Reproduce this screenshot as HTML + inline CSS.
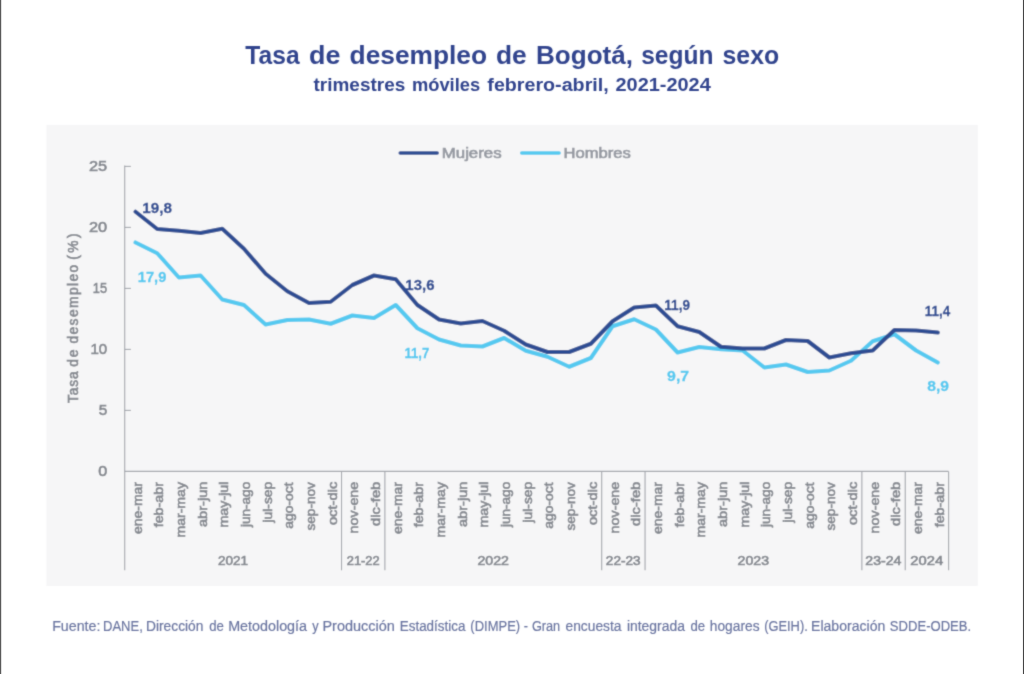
<!DOCTYPE html><html><head><meta charset="utf-8"><title>Tasa de desempleo de Bogotá</title>
<style>html,body{margin:0;padding:0;background:#fff;}body{width:1024px;height:674px;overflow:hidden;}svg{display:block;}text{font-family:"Liberation Sans",sans-serif;}</style></head><body>
<svg width="1024" height="674" viewBox="0 0 1024 674">
<rect x="0" y="0" width="1024" height="674" fill="#ffffff"/>
<rect x="0" y="0" width="1.2" height="674" fill="#5a5a5a"/>
<rect x="1022.95" y="0" width="1.05" height="674" fill="#444444"/>
<defs><filter id="soft" x="0" y="0" width="1024" height="674" filterUnits="userSpaceOnUse"><feConvolveMatrix order="3" kernelMatrix="0.025 0.1 0.025 0.1 0.5 0.1 0.025 0.1 0.025" divisor="1" edgeMode="duplicate" preserveAlpha="false"/></filter></defs>
<g filter="url(#soft)">
<rect x="46.4" y="124.9" width="931.4" height="461" fill="#f6f6f7"/>
<text x="245.36" y="64.00" font-size="26" font-weight="bold" fill="#33458e"  textLength="54.29" lengthAdjust="spacingAndGlyphs">Tasa</text>
<text x="309.06" y="64.00" font-size="26" font-weight="bold" fill="#33458e"  textLength="31.41" lengthAdjust="spacingAndGlyphs">de</text>
<text x="349.59" y="64.00" font-size="26" font-weight="bold" fill="#33458e"  textLength="137.50" lengthAdjust="spacingAndGlyphs">desempleo</text>
<text x="495.99" y="64.00" font-size="26" font-weight="bold" fill="#33458e"  textLength="30.77" lengthAdjust="spacingAndGlyphs">de</text>
<text x="536.05" y="64.00" font-size="26" font-weight="bold" fill="#33458e"  textLength="96.92" lengthAdjust="spacingAndGlyphs">Bogotá,</text>
<text x="641.16" y="64.00" font-size="26" font-weight="bold" fill="#33458e"  textLength="72.23" lengthAdjust="spacingAndGlyphs">según</text>
<text x="722.54" y="64.00" font-size="26" font-weight="bold" fill="#33458e"  textLength="56.63" lengthAdjust="spacingAndGlyphs">sexo</text>
<text x="313.54" y="91.00" font-size="18" font-weight="bold" fill="#33458e"  textLength="91.70" lengthAdjust="spacingAndGlyphs">trimestres</text>
<text x="411.93" y="91.00" font-size="18" font-weight="bold" fill="#33458e"  textLength="68.28" lengthAdjust="spacingAndGlyphs">móviles</text>
<text x="487.33" y="91.00" font-size="18" font-weight="bold" fill="#33458e"  textLength="121.37" lengthAdjust="spacingAndGlyphs">febrero-abril,</text>
<text x="615.47" y="91.00" font-size="18" font-weight="bold" fill="#33458e"  textLength="95.33" lengthAdjust="spacingAndGlyphs">2021-2024</text>
<line x1="400.2" y1="153" x2="437.2" y2="153" stroke="#2f4d93" stroke-width="3.5" stroke-linecap="round"/>
<text x="441.82" y="158.00" font-size="15" font-weight="normal" fill="#969aa2" stroke="#969aa2" stroke-width="0.7" textLength="59.74" lengthAdjust="spacingAndGlyphs">Mujeres</text>
<line x1="521.7" y1="153" x2="559.1" y2="153" stroke="#54c9f0" stroke-width="3.5" stroke-linecap="round"/>
<text x="563.64" y="158.00" font-size="15" font-weight="normal" fill="#969aa2" stroke="#969aa2" stroke-width="0.7" textLength="67.21" lengthAdjust="spacingAndGlyphs">Hombres</text>
<g stroke="#a2a5ab" stroke-width="1.1" fill="none">
<line x1="124.7" y1="165.6" x2="124.7" y2="570.3"/>
<line x1="124.7" y1="471.4" x2="948.6" y2="471.4"/>
<line x1="124.7" y1="410.40" x2="130.9" y2="410.40"/>
<line x1="124.7" y1="349.40" x2="130.9" y2="349.40"/>
<line x1="124.7" y1="288.40" x2="130.9" y2="288.40"/>
<line x1="124.7" y1="227.40" x2="130.9" y2="227.40"/>
<line x1="124.7" y1="166.40" x2="130.9" y2="166.40"/>
<line x1="341.52" y1="471.4" x2="341.52" y2="570.3"/>
<line x1="384.88" y1="471.4" x2="384.88" y2="570.3"/>
<line x1="601.69" y1="471.4" x2="601.69" y2="570.3"/>
<line x1="645.06" y1="471.4" x2="645.06" y2="570.3"/>
<line x1="861.87" y1="471.4" x2="861.87" y2="570.3"/>
<line x1="905.24" y1="471.4" x2="905.24" y2="570.3"/>
<line x1="948.60" y1="471.4" x2="948.60" y2="570.3"/>
</g>
<text x="98.21" y="476.00" font-size="15.3" font-weight="normal" fill="#84888f" stroke="#84888f" stroke-width="0.65" textLength="9.00" lengthAdjust="spacingAndGlyphs">0</text>
<text x="98.65" y="415.00" font-size="15.3" font-weight="normal" fill="#84888f" stroke="#84888f" stroke-width="0.65" textLength="8.52" lengthAdjust="spacingAndGlyphs">5</text>
<text x="90.43" y="354.00" font-size="15.3" font-weight="normal" fill="#84888f" stroke="#84888f" stroke-width="0.65" textLength="16.73" lengthAdjust="spacingAndGlyphs">10</text>
<text x="92.85" y="293.00" font-size="15.3" font-weight="normal" fill="#84888f" stroke="#84888f" stroke-width="0.65" textLength="14.19" lengthAdjust="spacingAndGlyphs">15</text>
<text x="89.03" y="232.00" font-size="15.3" font-weight="normal" fill="#84888f" stroke="#84888f" stroke-width="0.65" textLength="18.19" lengthAdjust="spacingAndGlyphs">20</text>
<text x="89.03" y="171.00" font-size="15.3" font-weight="normal" fill="#84888f" stroke="#84888f" stroke-width="0.65" textLength="18.19" lengthAdjust="spacingAndGlyphs">25</text>
<text transform="translate(77.70,402.60) rotate(-90)" x="-0.50" y="0" font-size="13.8" font-weight="normal" fill="#84888f" stroke="#84888f" stroke-width="0.65" textLength="31.76" lengthAdjust="spacing">Tasa</text>
<text transform="translate(77.70,366.00) rotate(-90)" x="-0.75" y="0" font-size="13.8" font-weight="normal" fill="#84888f" stroke="#84888f" stroke-width="0.65" textLength="17.31" lengthAdjust="spacing">de</text>
<text transform="translate(77.70,342.80) rotate(-90)" x="-0.75" y="0" font-size="13.8" font-weight="normal" fill="#84888f" stroke="#84888f" stroke-width="0.65" textLength="78.80" lengthAdjust="spacing">desempleo</text>
<text transform="translate(77.70,258.80) rotate(-90)" x="-1.00" y="0" font-size="13.8" font-weight="normal" fill="#84888f" stroke="#84888f" stroke-width="0.65" textLength="26.47" lengthAdjust="spacing">(%)</text>
<text transform="translate(141.54,533.30) rotate(-90)" x="-0.78" y="0" font-size="13.5" font-weight="normal" fill="#84888f" stroke="#84888f" stroke-width="0.65" textLength="52.03" lengthAdjust="spacingAndGlyphs">ene-mar</text>
<text transform="translate(163.22,526.80) rotate(-90)" x="-0.53" y="0" font-size="13.5" font-weight="normal" fill="#84888f" stroke="#84888f" stroke-width="0.65" textLength="45.29" lengthAdjust="spacingAndGlyphs">feb-abr</text>
<text transform="translate(184.90,536.30) rotate(-90)" x="-1.30" y="0" font-size="13.5" font-weight="normal" fill="#84888f" stroke="#84888f" stroke-width="0.65" textLength="55.52" lengthAdjust="spacingAndGlyphs">mar-may</text>
<text transform="translate(206.59,526.30) rotate(-90)" x="-0.81" y="0" font-size="13.5" font-weight="normal" fill="#84888f" stroke="#84888f" stroke-width="0.65" textLength="45.63" lengthAdjust="spacingAndGlyphs">abr-jun</text>
<text transform="translate(228.27,526.30) rotate(-90)" x="-1.32" y="0" font-size="13.5" font-weight="normal" fill="#84888f" stroke="#84888f" stroke-width="0.65" textLength="46.10" lengthAdjust="spacingAndGlyphs">may-jul</text>
<text transform="translate(249.95,527.10) rotate(-90)" x="0.00" y="0" font-size="13.5" font-weight="normal" fill="#84888f" stroke="#84888f" stroke-width="0.65" textLength="45.30" lengthAdjust="spacingAndGlyphs">jun-ago</text>
<text transform="translate(271.63,522.50) rotate(-90)" x="0.00" y="0" font-size="13.5" font-weight="normal" fill="#84888f" stroke="#84888f" stroke-width="0.65" textLength="40.70" lengthAdjust="spacingAndGlyphs">jul-sep</text>
<text transform="translate(293.31,528.00) rotate(-90)" x="-0.77" y="0" font-size="13.5" font-weight="normal" fill="#84888f" stroke="#84888f" stroke-width="0.65" textLength="46.46" lengthAdjust="spacingAndGlyphs">ago-oct</text>
<text transform="translate(314.99,530.10) rotate(-90)" x="-0.51" y="0" font-size="13.5" font-weight="normal" fill="#84888f" stroke="#84888f" stroke-width="0.65" textLength="48.54" lengthAdjust="spacingAndGlyphs">sep-nov</text>
<text transform="translate(336.68,524.30) rotate(-90)" x="-0.82" y="0" font-size="13.5" font-weight="normal" fill="#84888f" stroke="#84888f" stroke-width="0.65" textLength="43.35" lengthAdjust="spacingAndGlyphs">oct-dic</text>
<text transform="translate(358.36,532.10) rotate(-90)" x="-1.32" y="0" font-size="13.5" font-weight="normal" fill="#84888f" stroke="#84888f" stroke-width="0.65" textLength="51.67" lengthAdjust="spacingAndGlyphs">nov-ene</text>
<text transform="translate(380.04,525.10) rotate(-90)" x="-0.82" y="0" font-size="13.5" font-weight="normal" fill="#84888f" stroke="#84888f" stroke-width="0.65" textLength="44.17" lengthAdjust="spacingAndGlyphs">dic-feb</text>
<text transform="translate(401.72,533.30) rotate(-90)" x="-0.78" y="0" font-size="13.5" font-weight="normal" fill="#84888f" stroke="#84888f" stroke-width="0.65" textLength="52.03" lengthAdjust="spacingAndGlyphs">ene-mar</text>
<text transform="translate(423.40,526.80) rotate(-90)" x="-0.53" y="0" font-size="13.5" font-weight="normal" fill="#84888f" stroke="#84888f" stroke-width="0.65" textLength="45.29" lengthAdjust="spacingAndGlyphs">feb-abr</text>
<text transform="translate(445.08,536.30) rotate(-90)" x="-1.30" y="0" font-size="13.5" font-weight="normal" fill="#84888f" stroke="#84888f" stroke-width="0.65" textLength="55.52" lengthAdjust="spacingAndGlyphs">mar-may</text>
<text transform="translate(466.76,526.30) rotate(-90)" x="-0.81" y="0" font-size="13.5" font-weight="normal" fill="#84888f" stroke="#84888f" stroke-width="0.65" textLength="45.63" lengthAdjust="spacingAndGlyphs">abr-jun</text>
<text transform="translate(488.45,526.30) rotate(-90)" x="-1.32" y="0" font-size="13.5" font-weight="normal" fill="#84888f" stroke="#84888f" stroke-width="0.65" textLength="46.10" lengthAdjust="spacingAndGlyphs">may-jul</text>
<text transform="translate(510.13,527.10) rotate(-90)" x="0.00" y="0" font-size="13.5" font-weight="normal" fill="#84888f" stroke="#84888f" stroke-width="0.65" textLength="45.30" lengthAdjust="spacingAndGlyphs">jun-ago</text>
<text transform="translate(531.81,522.50) rotate(-90)" x="0.00" y="0" font-size="13.5" font-weight="normal" fill="#84888f" stroke="#84888f" stroke-width="0.65" textLength="40.70" lengthAdjust="spacingAndGlyphs">jul-sep</text>
<text transform="translate(553.49,528.00) rotate(-90)" x="-0.77" y="0" font-size="13.5" font-weight="normal" fill="#84888f" stroke="#84888f" stroke-width="0.65" textLength="46.46" lengthAdjust="spacingAndGlyphs">ago-oct</text>
<text transform="translate(575.17,530.10) rotate(-90)" x="-0.51" y="0" font-size="13.5" font-weight="normal" fill="#84888f" stroke="#84888f" stroke-width="0.65" textLength="48.54" lengthAdjust="spacingAndGlyphs">sep-nov</text>
<text transform="translate(596.85,524.30) rotate(-90)" x="-0.82" y="0" font-size="13.5" font-weight="normal" fill="#84888f" stroke="#84888f" stroke-width="0.65" textLength="43.35" lengthAdjust="spacingAndGlyphs">oct-dic</text>
<text transform="translate(618.54,532.10) rotate(-90)" x="-1.32" y="0" font-size="13.5" font-weight="normal" fill="#84888f" stroke="#84888f" stroke-width="0.65" textLength="51.67" lengthAdjust="spacingAndGlyphs">nov-ene</text>
<text transform="translate(640.22,525.10) rotate(-90)" x="-0.82" y="0" font-size="13.5" font-weight="normal" fill="#84888f" stroke="#84888f" stroke-width="0.65" textLength="44.17" lengthAdjust="spacingAndGlyphs">dic-feb</text>
<text transform="translate(661.90,533.30) rotate(-90)" x="-0.78" y="0" font-size="13.5" font-weight="normal" fill="#84888f" stroke="#84888f" stroke-width="0.65" textLength="52.03" lengthAdjust="spacingAndGlyphs">ene-mar</text>
<text transform="translate(683.58,526.80) rotate(-90)" x="-0.53" y="0" font-size="13.5" font-weight="normal" fill="#84888f" stroke="#84888f" stroke-width="0.65" textLength="45.29" lengthAdjust="spacingAndGlyphs">feb-abr</text>
<text transform="translate(705.26,536.30) rotate(-90)" x="-1.30" y="0" font-size="13.5" font-weight="normal" fill="#84888f" stroke="#84888f" stroke-width="0.65" textLength="55.52" lengthAdjust="spacingAndGlyphs">mar-may</text>
<text transform="translate(726.94,526.30) rotate(-90)" x="-0.81" y="0" font-size="13.5" font-weight="normal" fill="#84888f" stroke="#84888f" stroke-width="0.65" textLength="45.63" lengthAdjust="spacingAndGlyphs">abr-jun</text>
<text transform="translate(748.63,526.30) rotate(-90)" x="-1.32" y="0" font-size="13.5" font-weight="normal" fill="#84888f" stroke="#84888f" stroke-width="0.65" textLength="46.10" lengthAdjust="spacingAndGlyphs">may-jul</text>
<text transform="translate(770.31,527.10) rotate(-90)" x="0.00" y="0" font-size="13.5" font-weight="normal" fill="#84888f" stroke="#84888f" stroke-width="0.65" textLength="45.30" lengthAdjust="spacingAndGlyphs">jun-ago</text>
<text transform="translate(791.99,522.50) rotate(-90)" x="0.00" y="0" font-size="13.5" font-weight="normal" fill="#84888f" stroke="#84888f" stroke-width="0.65" textLength="40.70" lengthAdjust="spacingAndGlyphs">jul-sep</text>
<text transform="translate(813.67,528.00) rotate(-90)" x="-0.77" y="0" font-size="13.5" font-weight="normal" fill="#84888f" stroke="#84888f" stroke-width="0.65" textLength="46.46" lengthAdjust="spacingAndGlyphs">ago-oct</text>
<text transform="translate(835.35,530.10) rotate(-90)" x="-0.51" y="0" font-size="13.5" font-weight="normal" fill="#84888f" stroke="#84888f" stroke-width="0.65" textLength="48.54" lengthAdjust="spacingAndGlyphs">sep-nov</text>
<text transform="translate(857.03,524.30) rotate(-90)" x="-0.82" y="0" font-size="13.5" font-weight="normal" fill="#84888f" stroke="#84888f" stroke-width="0.65" textLength="43.35" lengthAdjust="spacingAndGlyphs">oct-dic</text>
<text transform="translate(878.71,532.10) rotate(-90)" x="-1.32" y="0" font-size="13.5" font-weight="normal" fill="#84888f" stroke="#84888f" stroke-width="0.65" textLength="51.67" lengthAdjust="spacingAndGlyphs">nov-ene</text>
<text transform="translate(900.40,525.10) rotate(-90)" x="-0.82" y="0" font-size="13.5" font-weight="normal" fill="#84888f" stroke="#84888f" stroke-width="0.65" textLength="44.17" lengthAdjust="spacingAndGlyphs">dic-feb</text>
<text transform="translate(922.08,533.30) rotate(-90)" x="-0.78" y="0" font-size="13.5" font-weight="normal" fill="#84888f" stroke="#84888f" stroke-width="0.65" textLength="52.03" lengthAdjust="spacingAndGlyphs">ene-mar</text>
<text transform="translate(943.76,526.80) rotate(-90)" x="-0.53" y="0" font-size="13.5" font-weight="normal" fill="#84888f" stroke="#84888f" stroke-width="0.65" textLength="45.29" lengthAdjust="spacingAndGlyphs">feb-abr</text>
<text x="217.98" y="565.00" font-size="13.2" font-weight="normal" fill="#84888f" stroke="#84888f" stroke-width="0.65" textLength="30.09" lengthAdjust="spacingAndGlyphs">2021</text>
<text x="346.72" y="565.00" font-size="13.2" font-weight="normal" fill="#84888f" stroke="#84888f" stroke-width="0.65" textLength="32.94" lengthAdjust="spacingAndGlyphs">21-22</text>
<text x="477.46" y="565.00" font-size="13.2" font-weight="normal" fill="#84888f" stroke="#84888f" stroke-width="0.65" textLength="31.48" lengthAdjust="spacingAndGlyphs">2022</text>
<text x="605.85" y="565.00" font-size="13.2" font-weight="normal" fill="#84888f" stroke="#84888f" stroke-width="0.65" textLength="34.79" lengthAdjust="spacingAndGlyphs">22-23</text>
<text x="737.64" y="565.00" font-size="13.2" font-weight="normal" fill="#84888f" stroke="#84888f" stroke-width="0.65" textLength="31.48" lengthAdjust="spacingAndGlyphs">2023</text>
<text x="865.39" y="565.00" font-size="13.2" font-weight="normal" fill="#84888f" stroke="#84888f" stroke-width="0.65" textLength="36.05" lengthAdjust="spacingAndGlyphs">23-24</text>
<text x="910.30" y="565.00" font-size="13.2" font-weight="normal" fill="#84888f" stroke="#84888f" stroke-width="0.65" textLength="32.78" lengthAdjust="spacingAndGlyphs">2024</text>
<path d="M135.54,242.50 L157.22,253.25 L178.90,277.50 L200.59,275.50 L222.27,299.50 L243.95,305.00 L265.63,324.50 L287.31,320.00 L308.99,319.50 L330.68,323.75 L352.36,315.50 L374.04,318.00 L395.72,305.00 L417.40,328.25 L439.08,339.50 L460.76,345.50 L482.45,346.50 L504.13,338.00 L525.81,350.75 L547.49,356.75 L569.17,366.75 L590.85,358.00 L612.54,326.25 L634.22,319.25 L655.90,329.50 L677.58,352.50 L699.26,347.00 L720.94,349.25 L742.63,350.50 L764.31,367.50 L785.99,364.50 L807.67,372.00 L829.35,370.50 L851.03,360.75 L872.71,341.25 L894.40,334.25 L916.08,350.50 L937.76,362.50" fill="none" stroke="#54c9f0" stroke-width="4.1" stroke-linejoin="round" stroke-linecap="round"/>
<path d="M135.54,211.75 L157.22,229.00 L178.90,230.75 L200.59,233.00 L222.27,228.75 L243.95,248.75 L265.63,273.75 L287.31,291.25 L308.99,303.00 L330.68,301.75 L352.36,285.00 L374.04,275.50 L395.72,279.25 L417.40,305.00 L439.08,319.50 L460.76,323.50 L482.45,321.00 L504.13,330.75 L525.81,344.50 L547.49,352.00 L569.17,352.00 L590.85,343.75 L612.54,321.25 L634.22,307.50 L655.90,305.50 L677.58,326.25 L699.26,332.00 L720.94,346.75 L742.63,348.50 L764.31,348.50 L785.99,340.00 L807.67,341.00 L829.35,357.50 L851.03,353.25 L872.71,350.50 L894.40,330.00 L916.08,330.50 L937.76,332.50" fill="none" stroke="#2f4d93" stroke-width="4.1" stroke-linejoin="round" stroke-linecap="round"/>
<text x="142.33" y="213.00" font-size="14.9" font-weight="bold" fill="#2f4d93" stroke="#2f4d93" stroke-width="0.3" textLength="29.66" lengthAdjust="spacingAndGlyphs">19,8</text>
<text x="137.71" y="282.00" font-size="14.9" font-weight="bold" fill="#54c9f0" stroke="#54c9f0" stroke-width="0.3" textLength="28.61" lengthAdjust="spacingAndGlyphs">17,9</text>
<text x="405.35" y="290.00" font-size="14.9" font-weight="bold" fill="#2f4d93" stroke="#2f4d93" stroke-width="0.3" textLength="29.14" lengthAdjust="spacingAndGlyphs">13,6</text>
<text x="404.41" y="358.00" font-size="14.9" font-weight="bold" fill="#54c9f0" stroke="#54c9f0" stroke-width="0.3" textLength="24.98" lengthAdjust="spacingAndGlyphs">11,7</text>
<text x="664.32" y="310.00" font-size="14.9" font-weight="bold" fill="#2f4d93" stroke="#2f4d93" stroke-width="0.3" textLength="25.67" lengthAdjust="spacingAndGlyphs">11,9</text>
<text x="667.07" y="381.00" font-size="14.9" font-weight="bold" fill="#54c9f0" stroke="#54c9f0" stroke-width="0.3" textLength="22.08" lengthAdjust="spacingAndGlyphs">9,7</text>
<text x="924.83" y="316.00" font-size="14.9" font-weight="bold" fill="#2f4d93" stroke="#2f4d93" stroke-width="0.3" textLength="25.30" lengthAdjust="spacingAndGlyphs">11,4</text>
<text x="927.27" y="391.00" font-size="14.9" font-weight="bold" fill="#54c9f0" stroke="#54c9f0" stroke-width="0.3" textLength="21.76" lengthAdjust="spacingAndGlyphs">8,9</text>
<text x="52.15" y="631.00" font-size="15.5" font-weight="normal" fill="#6a75a0" stroke="#6a75a0" stroke-width="0.2" textLength="48.25" lengthAdjust="spacingAndGlyphs">Fuente:</text>
<text x="103.05" y="631.00" font-size="15.5" font-weight="normal" fill="#6a75a0" stroke="#6a75a0" stroke-width="0.2" textLength="39.70" lengthAdjust="spacingAndGlyphs">DANE,</text>
<text x="145.99" y="631.00" font-size="15.5" font-weight="normal" fill="#6a75a0" stroke="#6a75a0" stroke-width="0.2" textLength="57.48" lengthAdjust="spacingAndGlyphs">Dirección</text>
<text x="209.17" y="631.00" font-size="15.5" font-weight="normal" fill="#6a75a0" stroke="#6a75a0" stroke-width="0.2" textLength="14.66" lengthAdjust="spacingAndGlyphs">de</text>
<text x="228.14" y="631.00" font-size="15.5" font-weight="normal" fill="#6a75a0" stroke="#6a75a0" stroke-width="0.2" textLength="78.91" lengthAdjust="spacingAndGlyphs">Metodología</text>
<text x="312.30" y="631.00" font-size="15.5" font-weight="normal" fill="#6a75a0" stroke="#6a75a0" stroke-width="0.2" textLength="6.35" lengthAdjust="spacingAndGlyphs">y</text>
<text x="322.43" y="631.00" font-size="15.5" font-weight="normal" fill="#6a75a0" stroke="#6a75a0" stroke-width="0.2" textLength="72.45" lengthAdjust="spacingAndGlyphs">Producción</text>
<text x="399.82" y="631.00" font-size="15.5" font-weight="normal" fill="#6a75a0" stroke="#6a75a0" stroke-width="0.2" textLength="65.53" lengthAdjust="spacingAndGlyphs">Estadística</text>
<text x="470.36" y="631.00" font-size="15.5" font-weight="normal" fill="#6a75a0" stroke="#6a75a0" stroke-width="0.2" textLength="49.81" lengthAdjust="spacingAndGlyphs">(DIMPE)</text>
<text x="523.68" y="631.00" font-size="15.5" font-weight="normal" fill="#6a75a0" stroke="#6a75a0" stroke-width="0.2" textLength="4.24" lengthAdjust="spacingAndGlyphs">-</text>
<text x="531.88" y="631.00" font-size="15.5" font-weight="normal" fill="#6a75a0" stroke="#6a75a0" stroke-width="0.2" textLength="28.31" lengthAdjust="spacingAndGlyphs">Gran</text>
<text x="565.53" y="631.00" font-size="15.5" font-weight="normal" fill="#6a75a0" stroke="#6a75a0" stroke-width="0.2" textLength="55.90" lengthAdjust="spacingAndGlyphs">encuesta</text>
<text x="626.90" y="631.00" font-size="15.5" font-weight="normal" fill="#6a75a0" stroke="#6a75a0" stroke-width="0.2" textLength="58.00" lengthAdjust="spacingAndGlyphs">integrada</text>
<text x="690.48" y="631.00" font-size="15.5" font-weight="normal" fill="#6a75a0" stroke="#6a75a0" stroke-width="0.2" textLength="14.66" lengthAdjust="spacingAndGlyphs">de</text>
<text x="709.81" y="631.00" font-size="15.5" font-weight="normal" fill="#6a75a0" stroke="#6a75a0" stroke-width="0.2" textLength="49.75" lengthAdjust="spacingAndGlyphs">hogares</text>
<text x="764.17" y="631.00" font-size="15.5" font-weight="normal" fill="#6a75a0" stroke="#6a75a0" stroke-width="0.2" textLength="43.60" lengthAdjust="spacingAndGlyphs">(GEIH).</text>
<text x="811.07" y="631.00" font-size="15.5" font-weight="normal" fill="#6a75a0" stroke="#6a75a0" stroke-width="0.2" textLength="74.21" lengthAdjust="spacingAndGlyphs">Elaboración</text>
<text x="889.87" y="631.00" font-size="15.5" font-weight="normal" fill="#6a75a0" stroke="#6a75a0" stroke-width="0.2" textLength="81.27" lengthAdjust="spacingAndGlyphs">SDDE-ODEB.</text>
</g>
</svg></body></html>
